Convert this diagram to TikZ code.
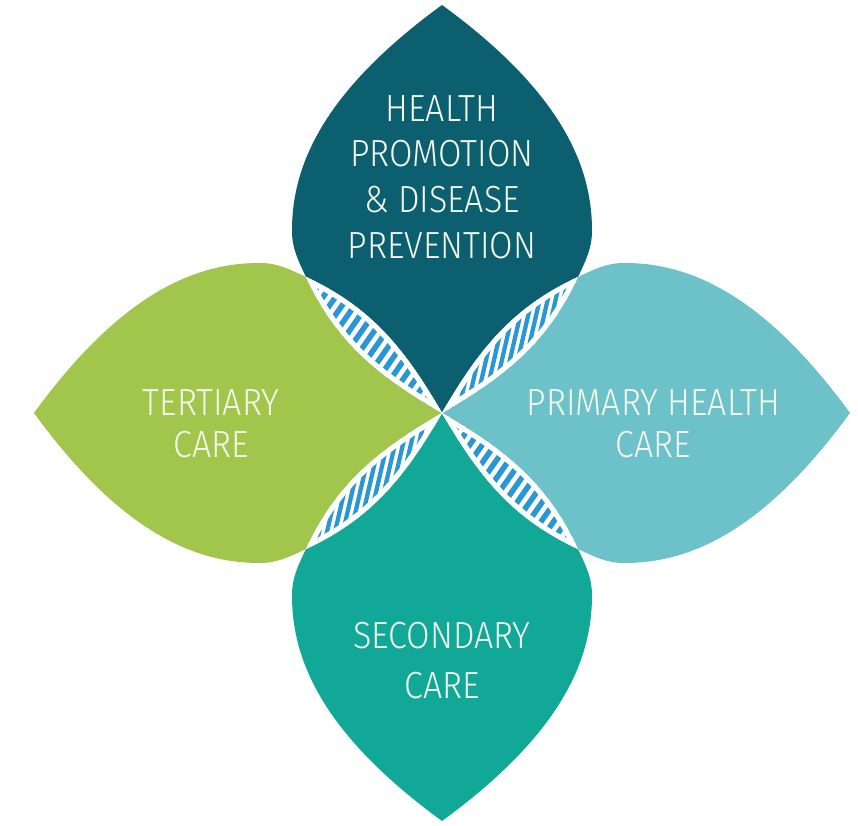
\documentclass[tikz,border=0pt]{standalone}
\usepackage{fontspec}
\IfFontExistsTF{Fira Sans Light}
	{\setmainfont{Fira Sans Light}[FakeStretch=0.9]}
	{\setmainfont{Fira Sans}[FakeStretch=0.9]}
\usepackage{tikz}

\definecolor{promoteal}{HTML}{0C5F6F}
\definecolor{primteal}{HTML}{6CC2C8}
\definecolor{secgreen}{HTML}{12A898}
\definecolor{tertgreen}{HTML}{A2C54C}
\definecolor{hatchblue}{HTML}{2A96D4}
\definecolor{labelwhite}{HTML}{F4F8EE}

% one petal, pointing up, tip at the centre
\newcommand{\petal}{(0,0) .. controls (1.26,0.73) and (2.11,1.40) .. (2.72,2.72)
  .. controls (2.89,3.08) and (3.0,3.3) .. (3.0,3.65)
  .. controls (3.0,4.9) and (2.43,6.39) .. (0,8.16)
  .. controls (-2.43,6.39) and (-3.0,4.9) .. (-3.0,3.65)
  .. controls (-3.0,3.3) and (-2.89,3.08) .. (-2.72,2.72)
  .. controls (-2.11,1.40) and (-1.26,0.73) .. (0,0) -- cycle}

\begin{document}
\begin{tikzpicture}[
		petaltext/.style={text=labelwhite,align=center,font=\fontsize{21.5}{26}\selectfont},
		bar/.style={hatchblue,line width=#1}
	]
		\useasboundingbox (-8.84,-8.26) rectangle (8.32,8.26);
		\fill[promoteal] \petal;
		\fill[primteal,rotate=-90] \petal;
		\fill[secgreen,rotate=180] \petal;
		\fill[tertgreen,rotate=90] \petal;
		% overlaps: angle of petal a / petal b / stripe turn / spacing / bar width
		\foreach \a/\b/\s/\p/\w in {0/90/-35/0.205/0.11, 0/-90/-13/0.155/0.085,
				180/90/-13/0.155/0.085, 180/-90/-35/0.205/0.11}{
			\begin{scope}
				\clip[rotate=\a] \petal;
				\clip[rotate=\b] \petal;
				\fill[white] (-9,-9) rectangle (9,9);
				\begin{scope}[rotate=\s]
					\foreach \i in {-45,...,45}
						\draw[bar=\w cm] (\i*\p,-10) -- (\i*\p,10);
				\end{scope}
				\draw[white,line width=0.2cm,rotate=\a] \petal;
				\draw[white,line width=0.2cm,rotate=\b] \petal;
			\end{scope}
		}
		\node[petaltext] (promo) at (0,4.72) {HEALTH\\PROMOTION\\\& DISEASE\\PREVENTION};
		\node[petaltext,font=\fontsize{21.5}{24}\selectfont] (tert) at (-4.62,-0.22) {TERTIARY\\CARE};
		\node[petaltext,font=\fontsize{21.5}{24}\selectfont] (prim) at (4.23,-0.22) {PRIMARY HEALTH\\CARE};
		\node[petaltext,font=\fontsize{21.5}{28.5}\selectfont] (sec) at (0,-4.96) {SECONDARY\\CARE};
	\end{tikzpicture}
\end{document}
